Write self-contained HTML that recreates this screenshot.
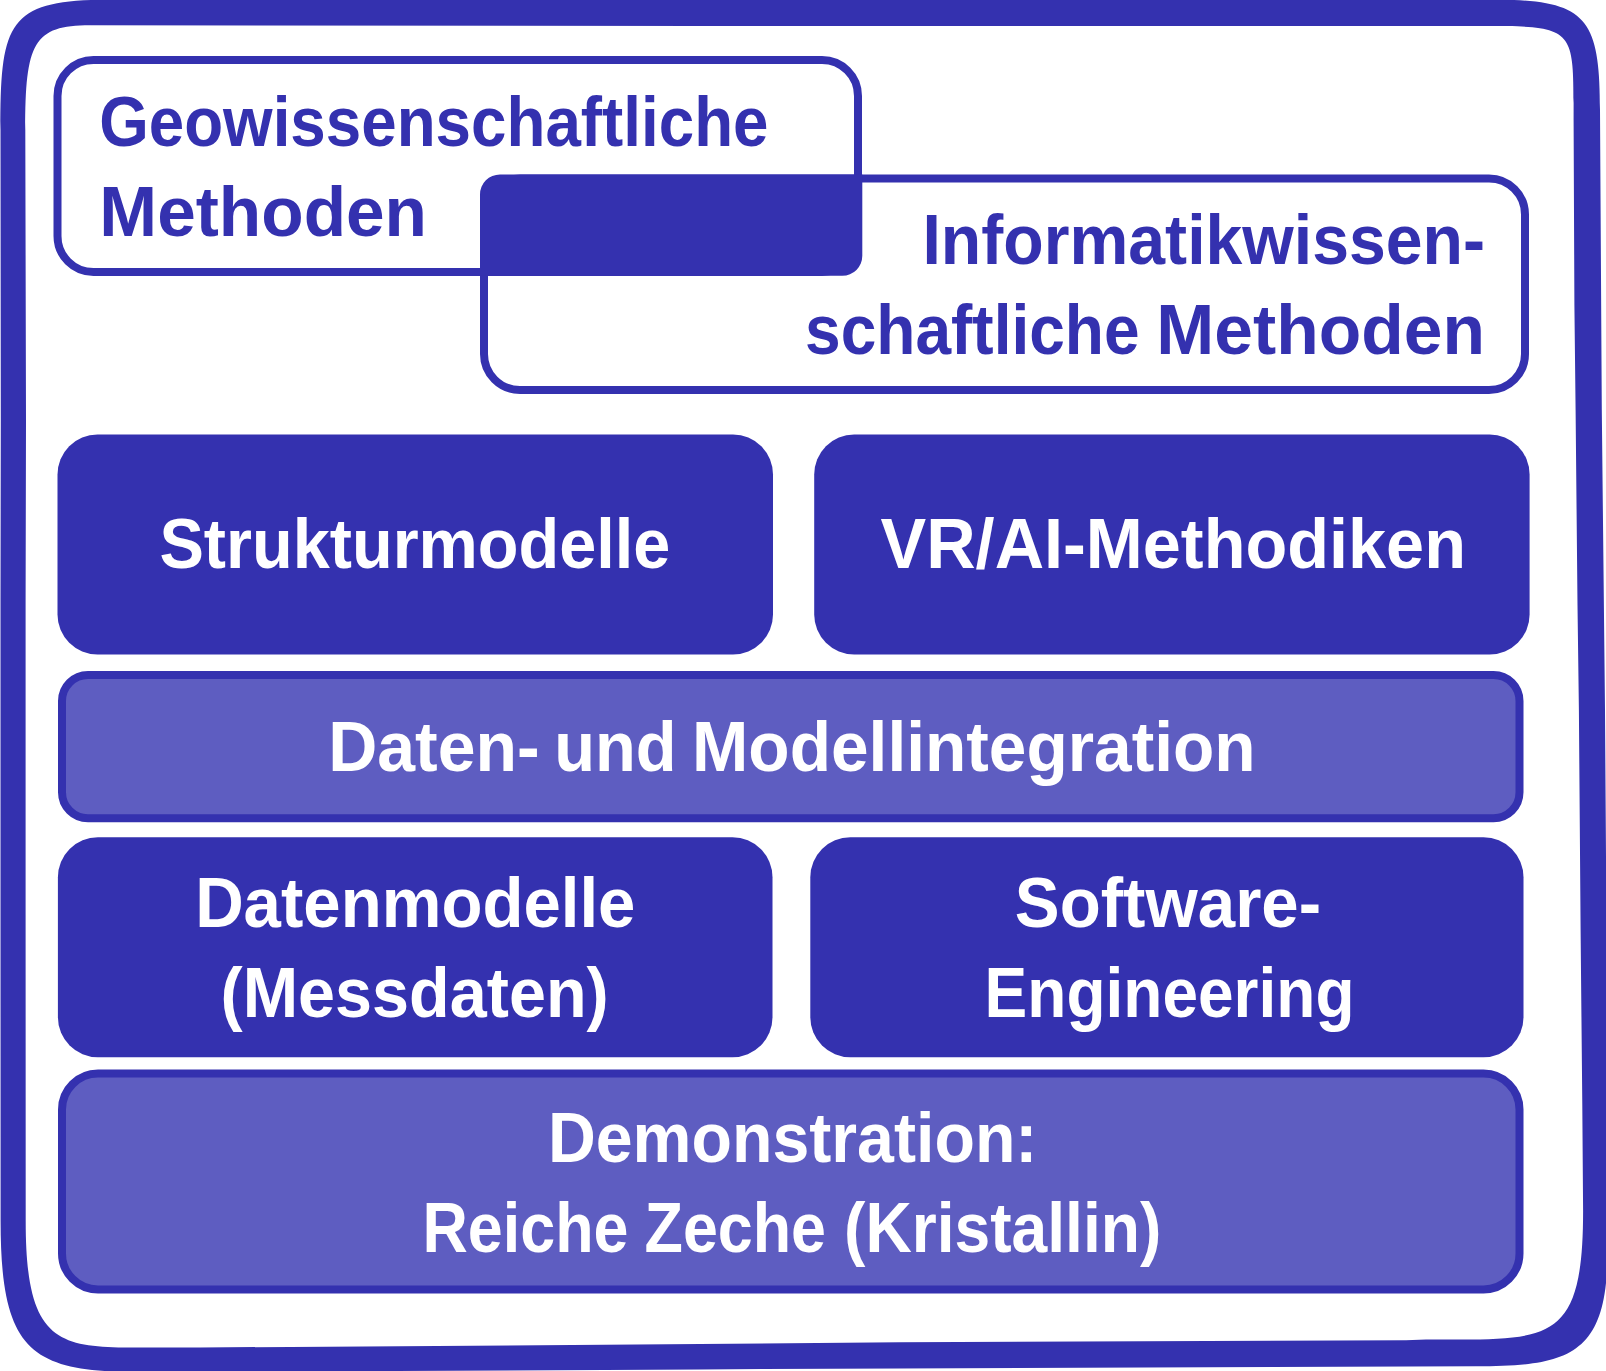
<!DOCTYPE html>
<html><head><meta charset="utf-8"><style>
html,body{margin:0;padding:0;background:#FFFFFF;overflow:hidden;}
svg{display:block;}
text{font-family:"Liberation Sans",sans-serif;font-weight:bold;font-size:70px;}
</style></head><body>
<svg width="1606" height="1371" viewBox="0 0 1606 1371">
<rect width="1606" height="1371" fill="#FFFFFF"/>

<path fill="#3431AF" fill-rule="evenodd" d="M0.50,130.00 C0.50,21.70 7.72,-0.30 110.00,-0.30 L1496.00,-0.30 C1587.10,-0.30 1600.00,18.90 1600.00,110.00 L1601.8,410 L1605,710 L1606.5,930 L1607.5,1150 L1607.50,1251.00 C1607.50,1356.06 1568.70,1366.20 1476.00,1366.20 L900,1368.4 L700,1369.4 L300,1371.5 L140.00,1372.00 C31.03,1372.00 0.60,1351.76 0.60,1221.00 L0.5,900 L0.5,600 L0.8,420 Z M25.30,130.00 C25.30,42.92 33.40,25.20 90.00,25.20 L700,25.9 L1406,26.1 L1486.00,26.00 C1576.84,26.00 1573.60,29.16 1573.60,120.00 L1574.4,305 L1575.6,410 L1577.5,605 L1578.9,710 L1580.6,930 L1582.3,1105 L1583.10,1211.00 C1583.10,1347.28 1547.93,1339.40 1426.00,1339.40 L1406,1340.2 L900,1342.3 L700,1344.1 L200,1347.5 L130.00,1347.50 C54.66,1347.50 25.70,1336.92 25.70,1221.00 L25.6,900 L25.6,600 L26.0,420 Z"/>
<rect x="57.5" y="60" width="800.5" height="212" rx="36" ry="36" fill="none" stroke="#3431AF" stroke-width="8"/>
<rect x="484" y="178.5" width="1041" height="211.5" rx="36" ry="36" fill="none" stroke="#3431AF" stroke-width="8"/>
<path fill="#3431AF" d="M480,194.5 A20,20 0 0 1 500,174.5 L862.3,174.5 L862.3,255.8 A20,20 0 0 1 842.3,275.8 L480,275.8 Z"/>
<rect x="57.5" y="434.5" width="715.5" height="220" rx="40" ry="40" fill="#3431AF"/>
<rect x="814.2" y="434.5" width="715.4" height="220" rx="40" ry="40" fill="#3431AF"/>
<rect x="62" y="675" width="1457.5" height="143.3" rx="26" ry="26" fill="#5E5DC1" stroke="#3431AF" stroke-width="8"/>
<rect x="57.9" y="837.3" width="714.6" height="220" rx="40" ry="40" fill="#3431AF"/>
<rect x="810.3" y="837.3" width="713.2" height="220" rx="40" ry="40" fill="#3431AF"/>
<rect x="62" y="1073.6" width="1457.5" height="215.8" rx="36" ry="36" fill="#5E5DC1" stroke="#3431AF" stroke-width="8"/>

<text x="99.18" y="145.50" textLength="669.33" lengthAdjust="spacingAndGlyphs" fill="#3431AF">Geowissenschaftliche</text>
<text x="99.37" y="236.00" textLength="327.64" lengthAdjust="spacingAndGlyphs" fill="#3431AF">Methoden</text>
<text x="922.44" y="264.10" textLength="562.60" lengthAdjust="spacingAndGlyphs" fill="#3431AF">Informatikwissen-</text>
<text x="805.07" y="354.10" textLength="334.47" lengthAdjust="spacingAndGlyphs" fill="#3431AF">schaftliche</text>
<text x="1156.37" y="354.10" textLength="328.75" lengthAdjust="spacingAndGlyphs" fill="#3431AF">Methoden</text>
<text x="159.38" y="568.30" textLength="511.05" lengthAdjust="spacingAndGlyphs" fill="#FFFFFF">Strukturmodelle</text>
<text x="880.59" y="568.40" textLength="585.35" lengthAdjust="spacingAndGlyphs" fill="#FFFFFF">VR/AI-Methodiken</text>
<text x="328.14" y="771.00" textLength="211.46" lengthAdjust="spacingAndGlyphs" fill="#FFFFFF">Daten-</text>
<text x="554.23" y="771.00" textLength="122.39" lengthAdjust="spacingAndGlyphs" fill="#FFFFFF">und</text>
<text x="692.03" y="771.00" textLength="563.64" lengthAdjust="spacingAndGlyphs" fill="#FFFFFF">Modellintegration</text>
<text x="195.13" y="927.20" textLength="440.32" lengthAdjust="spacingAndGlyphs" fill="#FFFFFF">Datenmodelle</text>
<text x="220.53" y="1016.90" textLength="388.24" lengthAdjust="spacingAndGlyphs" fill="#FFFFFF">(Messdaten)</text>
<text x="1014.87" y="927.20" textLength="306.19" lengthAdjust="spacingAndGlyphs" fill="#FFFFFF">Software-</text>
<text x="984.60" y="1017.40" textLength="369.90" lengthAdjust="spacingAndGlyphs" fill="#FFFFFF">Engineering</text>
<text x="547.91" y="1161.60" textLength="489.52" lengthAdjust="spacingAndGlyphs" fill="#FFFFFF">Demonstration:</text>
<text x="422.48" y="1251.70" textLength="205.98" lengthAdjust="spacingAndGlyphs" fill="#FFFFFF">Reiche</text>
<text x="644.56" y="1251.70" textLength="181.48" lengthAdjust="spacingAndGlyphs" fill="#FFFFFF">Zeche</text>
<text x="844.04" y="1251.70" textLength="317.32" lengthAdjust="spacingAndGlyphs" fill="#FFFFFF">(Kristallin)</text>
</svg>
</body></html>
